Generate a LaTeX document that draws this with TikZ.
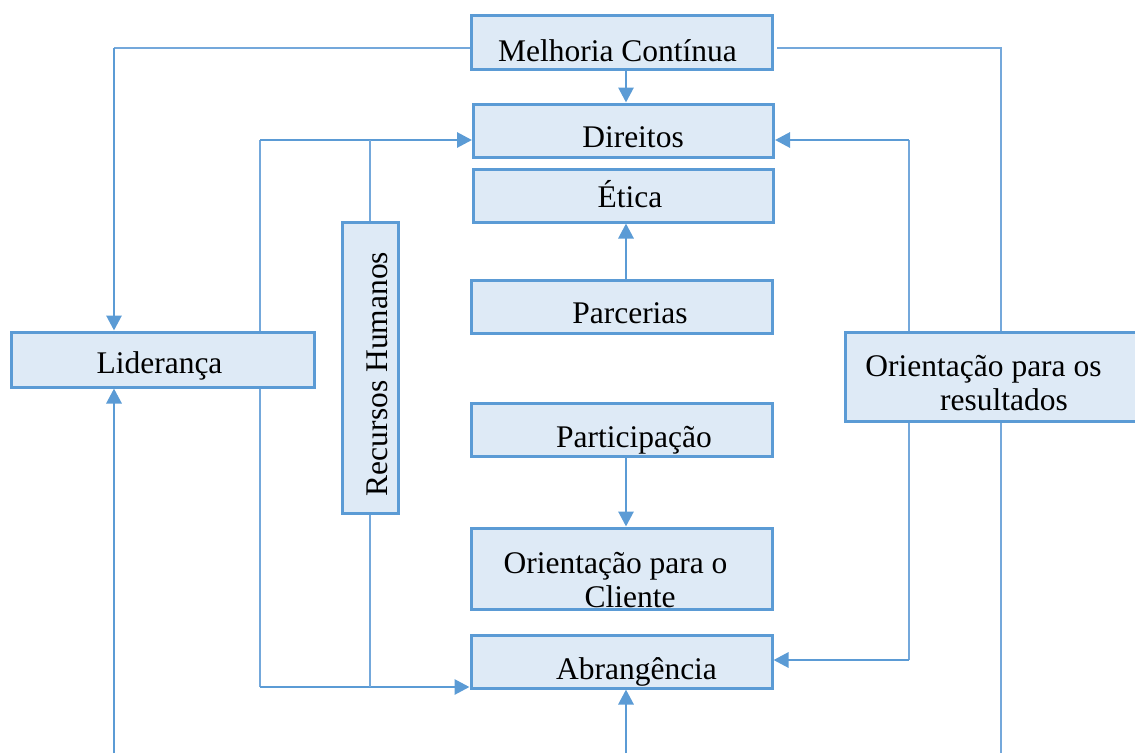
\documentclass[tikz,border=0pt]{standalone}
\usepackage{fontspec}
\setmainfont{Liberation Serif}
\usetikzlibrary{arrows.meta}
\definecolor{bord}{HTML}{5B9BD5}
\definecolor{fillc}{HTML}{DEEAF6}
\definecolor{thinc}{HTML}{74A8DB}
\tikzset{
  box/.style={draw=bord, fill=fillc, line width=3pt, inner sep=0pt, rectangle},
  lbl/.style={inner sep=0pt, anchor=base, font=\fontsize{31.5}{34}\selectfont, text=black},
  ln/.style={draw=thinc, line width=1.9pt},
  arr/.style={draw=bord, line width=2.9pt, -{Triangle[length=15pt,width=15pt]}},
}
\begin{document}
\begin{tikzpicture}[x=1pt,y=-1pt]
\useasboundingbox (0,0) rectangle (1135,753);
\begin{scope}
\clip (0,0) rectangle (1135,753);
% boxes
\node[box, minimum width=301pt, minimum height=54pt] (mel) at (622,42) {};
\node[box, minimum width=300pt, minimum height=53pt] (dir) at (623.5,130.5) {};
\node[box, minimum width=300pt, minimum height=53pt] (eti) at (623.5,195.5) {};
\node[box, minimum width=301pt, minimum height=53pt] (par) at (621.5,306.5) {};
\node[box, minimum width=301pt, minimum height=53pt] (part) at (621.5,430) {};
\node[box, minimum width=301pt, minimum height=81pt] (cli) at (621.5,568.5) {};
\node[box, minimum width=301pt, minimum height=53pt] (abr) at (621.5,661.5) {};
\node[box, minimum width=303pt, minimum height=55pt] (lid) at (162.5,359.5) {};
\node[box, minimum width=56pt, minimum height=291pt] (rh) at (370,367.5) {};
\node[box, minimum width=300pt, minimum height=89pt] (res) at (995,376.5) {};
\end{scope}
% texts
\node[lbl] (tmel) at (617.5,61) {Melhoria Contínua};
\node[lbl] (tdir) at (633,147) {Direitos};
\node[lbl] (teti) at (630,207) {Ética};
\node[lbl] (tpar) at (630,323) {Parcerias};
\node[lbl] (tpart) at (634,447) {Participação};
\node[lbl] (tcli1) at (615.5,573) {Orientação para o};
\node[lbl] (tcli2) at (630,607) {Cliente};
\node[lbl] (tabr) at (636.5,679) {Abrangência};
\node[lbl] (tlid) at (159.5,373) {Liderança};
\node[lbl, rotate=90] (trh) at (387,374) {Recursos Humanos};
\node[lbl] (tres1) at (983.5,376) {Orientação para os};
\node[lbl] (tres2) at (1004,410) {resultados};
% junction coordinates
\coordinate (jT1) at (114,48);
\coordinate (jT2) at (1001,48);
\coordinate (jL1) at (260,140);
\coordinate (jL2) at (260,687);
\coordinate (jR1) at (909,140);
\coordinate (jR2) at (909,660);
\coordinate (bL) at (114,753);
\coordinate (bM) at (626,753);
\coordinate (bR) at (1001,753);
% connectors
\draw[ln] (mel.west |- jT1) -- (jT1);
\draw[arr] (jT1) -- (lid.north -| jT1);
\draw[ln] ([xshift=3pt]mel.east |- jT2) -- (jT2) -- (res.north -| jT2);
\draw[ln] (res.south -| jT2) -- (bR);
\draw[arr] (mel.south -| bM) -- (dir.north -| bM);
\draw[arr] (par.north -| bM) -- (eti.south -| bM);
\draw[arr] (part.south -| bM) -- (cli.north -| bM);
\draw[arr] (bM) -- (abr.south -| bM);
\draw[arr] (bL) -- (lid.south -| bL);
\draw[ln] (lid.north -| jL1) -- (jL1);
\draw[arr] (jL1) -- (dir.west |- jL1);
\draw[ln] (rh.north) -- (rh.north |- jL1);
\draw[ln] (lid.south -| jL2) -- (jL2);
\draw[arr] (jL2) -- (abr.west |- jL2);
\draw[ln] (rh.south) -- (rh.south |- jL2);
\draw[ln] (res.north -| jR1) -- (jR1);
\draw[arr] (jR1) -- (dir.east |- jR1);
\draw[ln] (res.south -| jR2) -- (jR2);
\draw[arr] (jR2) -- (abr.east |- jR2);
\end{tikzpicture}
\end{document}
